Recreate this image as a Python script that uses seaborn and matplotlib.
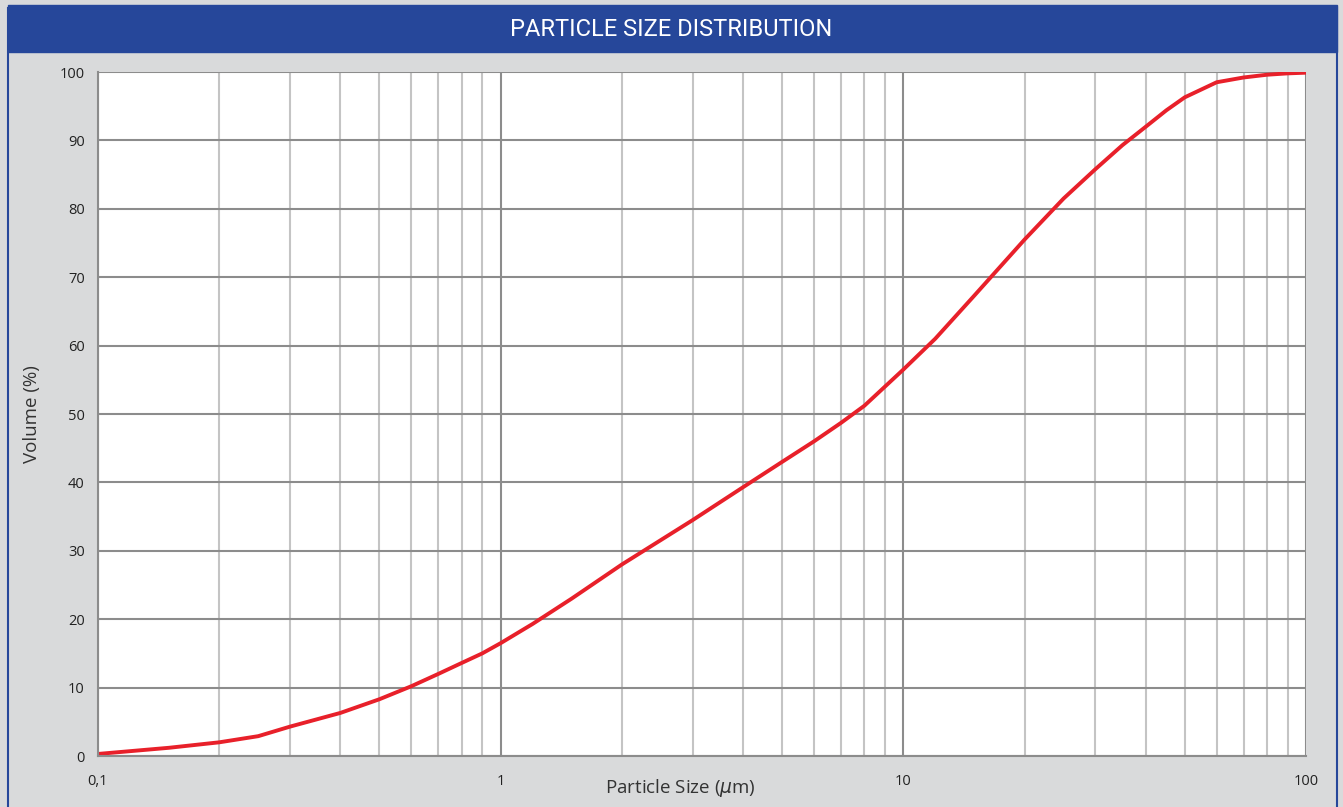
import matplotlib.pyplot as plt
import matplotlib.patches as patches
from matplotlib.ticker import FixedLocator, FixedFormatter, NullFormatter
import seaborn as sns
import pandas as pd

# particle size (um) and cumulative volume (%)
size_um = [0.1, 0.15, 0.2, 0.25, 0.3, 0.4, 0.5, 0.6, 0.7, 0.8, 0.9, 1.0,
           1.2, 1.5, 2, 3, 4, 5, 6, 7, 8, 10, 12, 15, 20, 25, 30, 35, 40,
           45, 50, 60, 70, 80, 90, 100]
volume_pct = [0.3, 1.2, 2.0, 2.9, 4.3, 6.3, 8.3, 10.2, 12.0, 13.6, 15.0, 16.5,
              19.3, 23.0, 28.0, 34.5, 39.3, 43.0, 46.0, 48.7, 51.2, 56.5,
              61.0, 67.3, 75.5, 81.5, 85.8, 89.3, 92.0, 94.4, 96.3, 98.5,
              99.2, 99.6, 99.8, 99.9]

x_ticks = [0.1, 1, 10, 100]
x_tick_labels = ["0,1", "1", "10", "100"]
y_ticks = list(range(0, 101, 10))

df = pd.DataFrame({"size": size_um, "volume": volume_pct})

sns.set_style("white")
plt.rcParams["font.family"] = ["Open Sans", "DejaVu Sans"]

bg = "#d9dadb"
blue = "#26479a"

fig = plt.figure(figsize=(13.43, 8.07), dpi=100, facecolor=bg)
ax = fig.add_axes([98 / 1343, 1 - 756 / 807, (1306 - 98) / 1343, (756 - 72) / 807])
ax.set_facecolor("white")

# frame and title bar
fig.patches.append(patches.Rectangle((8 / 1343, -0.01), (1337 - 8) / 1343, 1.0,
                                     transform=fig.transFigure, fill=False,
                                     edgecolor=blue, linewidth=1.5))
fig.patches.append(patches.Rectangle((8 / 1343, 1 - 52 / 807), (1337 - 8) / 1343, 47 / 807,
                                     transform=fig.transFigure, facecolor=blue,
                                     edgecolor=blue))
fig.text(0.5, 1 - 30 / 807, "PARTICLE SIZE DISTRIBUTION", color="white",
         fontsize=17, ha="center", va="center", family=["Roboto", "DejaVu Sans"])

sns.lineplot(data=df, x="size", y="volume", ax=ax, color="#e8202a", linewidth=2.8)

ax.set_xscale("log")
ax.set_xlim(0.1, 100)
ax.set_ylim(0, 100)

ax.xaxis.set_major_locator(FixedLocator(x_ticks))
ax.xaxis.set_major_formatter(FixedFormatter(x_tick_labels))
minor = [m * d for d in (0.1, 1, 10) for m in range(2, 10)]
ax.xaxis.set_minor_locator(FixedLocator(minor))
ax.xaxis.set_minor_formatter(NullFormatter())
ax.set_yticks(y_ticks)

ax.grid(which="major", axis="both", color="#8c8c8c", linewidth=1.5)
ax.grid(which="minor", axis="x", color="#c4c4c4", linewidth=1.5)
ax.set_axisbelow(True)

for side in ["top", "right"]:
    ax.spines[side].set_visible(False)
for side in ["left", "bottom"]:
    ax.spines[side].set_color("#8c8c8c")
    ax.spines[side].set_linewidth(1.5)

ax.tick_params(axis="both", which="major", direction="out", length=6, width=1.5,
               color="#8c8c8c", labelsize=10.5, labelcolor="#222222")
ax.tick_params(axis="x", which="minor", length=0)
ax.tick_params(axis="x", which="major", pad=7)

ax.set_xlabel("Particle Size ($\\mu$m)", fontsize=13.5, color="#333333")
ax.xaxis.set_label_coords(0.482, -0.03)
ax.set_ylabel("Volume (%)", fontsize=13.5, color="#333333")
ax.yaxis.set_label_coords(-0.047, 0.5)

fig.savefig("out.png", dpi=100, facecolor=bg)
